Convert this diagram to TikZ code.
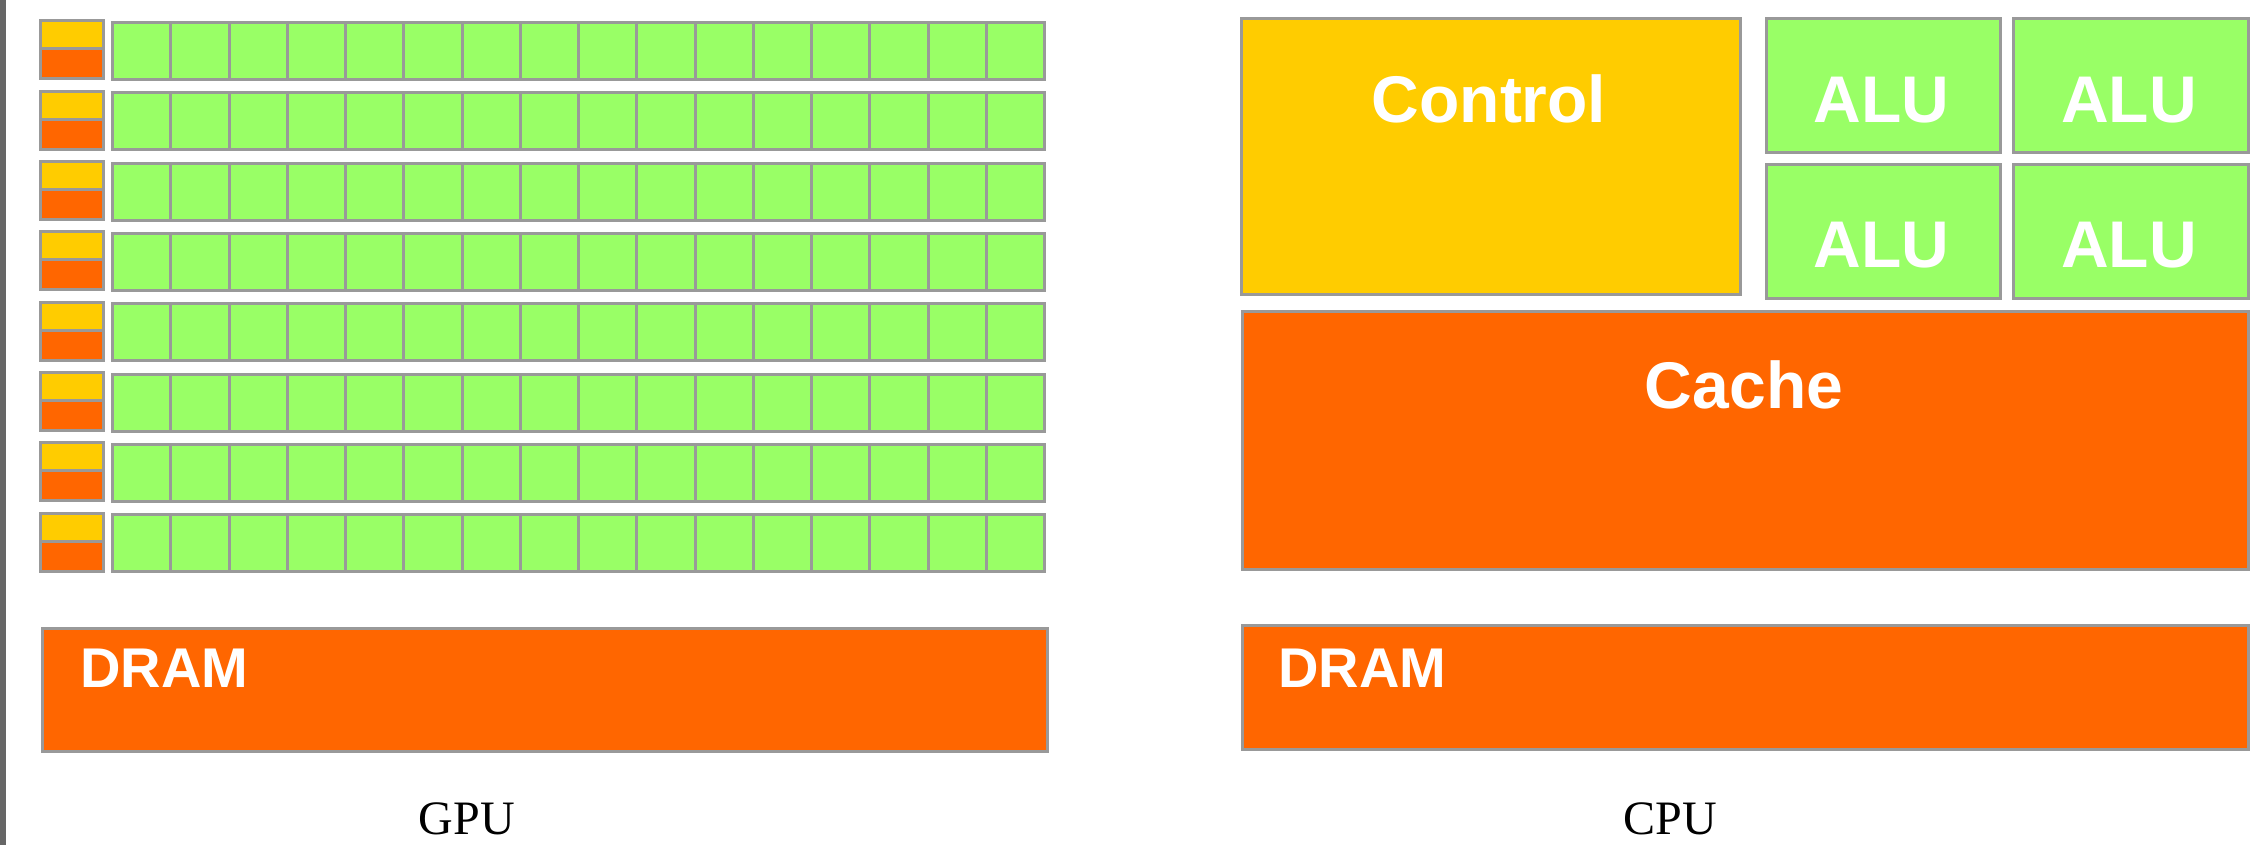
\documentclass[tikz,border=0pt]{standalone}
\usepackage{fontspec}
\setmainfont{Liberation Serif}
\newfontfamily\unitfont{Liberation Sans}
\usepackage{tikz}

\definecolor{ctrlyellow}{HTML}{FFCC00}
\definecolor{cacheorange}{HTML}{FF6600}
\definecolor{alugreen}{HTML}{99FF66}
\definecolor{edgegray}{HTML}{999999}
\definecolor{bargray}{HTML}{666666}

\begin{document}
\begin{tikzpicture}[x=1pt, y=-1pt,
		unit/.style={rectangle, draw=edgegray, line width=3pt, inner sep=0pt, anchor=north west},
		unitlabel/.style={text=white, font=\unitfont\bfseries\fontsize{66}{70}\selectfont, inner sep=0pt, anchor=base},
		dramlabel/.style={text=white, font=\unitfont\bfseries\fontsize{56}{60}\selectfont, inner sep=0pt, anchor=base west},
		caption/.style={font=\fontsize{48}{52}\selectfont, inner sep=0pt, anchor=base}]
			\useasboundingbox (0, 0) rectangle (2267, 845);
			\fill[bargray] (0, 0) rectangle (6, 845);
			% GPU: eight rows of control + cache and sixteen ALUs
			\foreach \r in {0, ..., 7} {
			\pgfmathsetmacro\rowtop{19.5 + 70.3*\r}
			\filldraw[fill=ctrlyellow, draw=edgegray, line width=3pt] (40.5, \rowtop + 1.5) rectangle (103.5, \rowtop + 29.5);
			\filldraw[fill=cacheorange, draw=edgegray, line width=3pt] (40.5, \rowtop + 29.5) rectangle (103.5, \rowtop + 59.5);
			\foreach \c in {0, ..., 15}
			\filldraw[fill=alugreen, draw=edgegray, line width=3pt] (112.5 + 58.25*\c, \rowtop + 3) rectangle + (58.25, 57);
			}
			\node[unit, fill=cacheorange, minimum width=1005, minimum height=123.5] (gdram) at (40.5, 626.5) {};
			\node[dramlabel] (gdram-label) at (80, 687) {DRAM};
			% CPU
			\node[unit, fill=ctrlyellow, minimum width=499, minimum height=275] (ctrl) at (1239.5, 17.5) {};
			\node[unit, fill=alugreen, minimum width=234, minimum height=134] (alu1) at (1764.5, 17.5) {};
			\node[unit, fill=alugreen, minimum width=235, minimum height=134] (alu2) at (2011.5, 17.5) {};
			\node[unit, fill=alugreen, minimum width=234, minimum height=133] (alu3) at (1764.5, 163.5) {};
			\node[unit, fill=alugreen, minimum width=235, minimum height=133] (alu4) at (2011.5, 163.5) {};
			\node[unit, fill=cacheorange, minimum width=1006, minimum height=258] (cache) at (1240.5, 309.5) {};
			\node[unit, fill=cacheorange, minimum width=1006, minimum height=124] (cdram) at (1240.5, 623.5) {};
			\node[unitlabel] (ctrl-label) at (1489, 123) {Control};
			\node[unitlabel] (alu1-label) at (1881.5, 123) {ALU};
			\node[unitlabel] (alu2-label) at (2129, 123) {ALU};
			\node[unitlabel] (alu3-label) at (1881.5, 267) {ALU};
			\node[unitlabel] (alu4-label) at (2129, 267) {ALU};
			\node[unitlabel] (cache-label) at (1744, 408) {Cache};
			\node[dramlabel] (cdram-label) at (1278, 687) {DRAM};
			% captions
			\node[caption] (gpu) at (467, 834) {GPU};
			\node[caption] (cpu) at (1670, 834) {CPU};
\end{tikzpicture}
\end{document}
